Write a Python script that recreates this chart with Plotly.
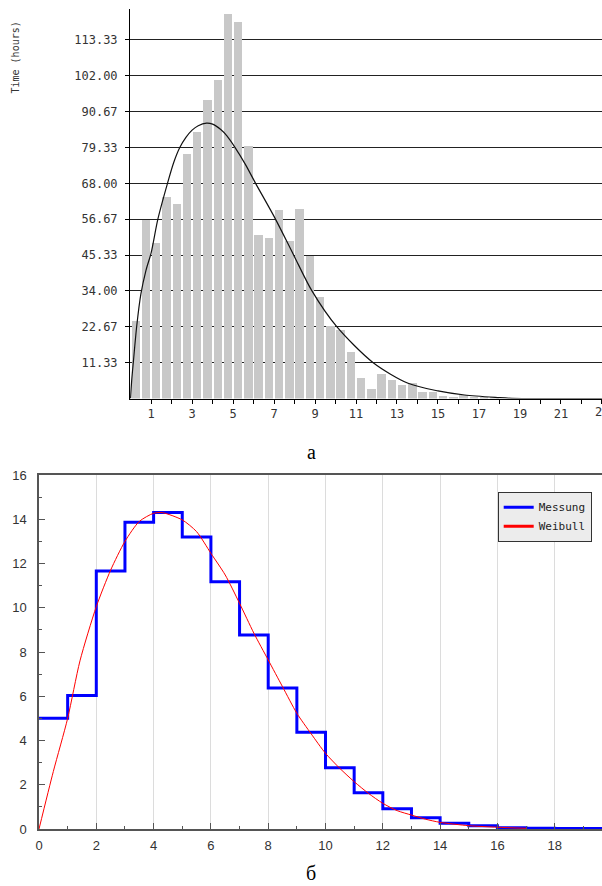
import plotly.graph_objects as go

# ---------- Top chart (a): histogram of times with fitted curve ----------
bar_x = [0.25 + 0.5 * i for i in range(36)]
bar_heights = [24.5, 56.5, 49.2, 63.6, 61.5, 77.3, 84.3, 94.4, 100.7, 121.5,
               119.0, 79.8, 51.6, 50.6, 59.6, 49.8, 60.0, 45.0, 32.2, 22.9,
               21.6, 14.7, 6.6, 3.0, 7.6, 5.8, 4.2, 4.8, 2.0, 2.0,
               0.8, 0.3, 1.0, 0.6, 0.4, 0.2]
curve_x = [0, 0.05, 0.13, 0.3, 0.5, 0.75, 1.0, 1.33, 1.8, 2.1, 2.4, 2.7, 3.0, 3.3, 3.7,
           4.0, 4.4, 4.7, 5.1, 5.6, 6.1, 7.07, 7.96, 8.85, 10.06, 11.84, 13.54, 15.0,
           16.3, 17.9, 18.6, 23.0]
curve_y = [0, 5.5, 11.3, 23, 33, 40.5, 46, 56.7, 68, 74.5, 79.3, 82.5, 84.8, 86.2, 87.0,
           86.7, 85.0, 83.0, 79.3, 74.0, 68, 56.7, 45.3, 34, 22.7, 11.3, 4.8, 2.4,
           1.1, 0.3, 0.05, 0]
top_yticks = [11.33, 22.67, 34.00, 45.33, 56.67, 68.00, 79.33, 90.67, 102.00, 113.33]
top_xticks = list(range(1, 24))

# ---------- Bottom chart (б): Messung vs Weibull ----------
step_x = list(range(0, 20)) + [19.65]
messung = [5.0, 6.03, 11.66, 13.86, 14.3, 13.2, 11.18, 8.77, 6.37, 4.37,
           2.77, 1.64, 0.92, 0.51, 0.26, 0.15, 0.06, 0.03, 0.02, 0.02]
weib_x = [0, 0.5, 1, 1.43, 2, 2.5, 3, 3.5, 4, 4.3, 5, 5.5, 6, 6.5, 7, 7.5, 8,
          8.5, 9, 9.5, 10, 10.5, 11, 11.5, 12, 12.5, 13, 13.5, 14, 15, 16, 17]
weibull = [0, 2.6, 5.0, 7.6, 10.05, 11.7, 13.0, 13.9, 14.27, 14.3, 13.97, 13.44,
           12.46, 11.48, 10.2, 8.85, 7.64, 6.43, 5.23, 4.3, 3.42, 2.74, 2.14,
           1.61, 1.16, 0.83, 0.63, 0.44, 0.3, 0.15, 0.08, 0.03]

W, H = 602, 886
mono = "DejaVu Sans Mono"


def px(xp):
    return xp / W


def py(yp):
    return 1 - yp / H


fig = go.Figure()

fig.add_trace(go.Bar(x=bar_x, y=bar_heights, width=0.41, marker_color="#c8c8c8",
                     marker_line_width=0, xaxis="x", yaxis="y", showlegend=False))
fig.add_trace(go.Scatter(x=curve_x, y=curve_y, mode="lines",
                         line=dict(color="#111", width=1.2, shape="spline", smoothing=0.8),
                         xaxis="x", yaxis="y", showlegend=False))

fig.add_trace(go.Scatter(x=step_x, y=messung + [messung[-1]], mode="lines", showlegend=False,
                         line=dict(color="#0000ff", width=3, shape="hv"), xaxis="x2", yaxis="y2"))
fig.add_trace(go.Scatter(x=weib_x, y=weibull, mode="lines", showlegend=False,
                         line=dict(color="#ff0000", width=1, shape="spline", smoothing=0.7),
                         xaxis="x2", yaxis="y2"))
fig.add_trace(go.Scatter(x=[None], y=[None], mode="lines", name="Messung",
                         line=dict(color="#0000ff", width=3), xaxis="x2", yaxis="y2"))
fig.add_trace(go.Scatter(x=[None], y=[None], mode="lines", name="Weibull",
                         line=dict(color="#ff0000", width=3), xaxis="x2", yaxis="y2"))

fig.update_layout(
    width=W, height=H, margin=dict(l=0, r=0, t=0, b=0, autoexpand=False),
    paper_bgcolor="white", plot_bgcolor="white",
    bargap=0,
    xaxis=dict(domain=[px(130), 1], range=[-0.03, 23.005], tickvals=top_xticks,
               ticktext=[str(v) if v % 2 else "" for v in top_xticks],
               ticks="outside", ticklen=4, tickcolor="#000", showline=True, linecolor="#000",
               linewidth=1, showgrid=False, zeroline=False, automargin=False,
               tickfont=dict(family=mono, size=12, color="#333"), anchor="y"),
    yaxis=dict(domain=[py(398.5), py(9)], range=[0, 123.1], tickvals=top_yticks,
               ticktext=["%.2f" % v for v in top_yticks], ticks="outside", ticklen=4,
               tickcolor="#000", showline=True, linecolor="#000", linewidth=1,
               showgrid=True, gridcolor="#222", gridwidth=1, zeroline=False, automargin=False,
               tickfont=dict(family=mono, size=12, color="#333"), ticklabelstandoff=5, anchor="x"),
    xaxis2=dict(domain=[px(39), 1], range=[0, 19.65], dtick=2, tick0=0, ticks="inside",
                ticklen=6, tickwidth=1.3, tickcolor="#555", showline=True, linecolor="#555", linewidth=1.5,
                mirror=True, showgrid=True, gridcolor="#dcdcdc", gridwidth=1, zeroline=False,
                minor=dict(ticks="inside", ticklen=3, dtick=1, tickcolor="#555", showgrid=False),
                tickfont=dict(family="Liberation Sans", size=13, color="#333"), automargin=False,
                ticklabelstandoff=4, anchor="y2"),
    yaxis2=dict(domain=[py(829), py(475)], range=[0, 16], dtick=2, tick0=0, ticks="inside",
                ticklen=6, tickwidth=1.3, tickcolor="#555", showline=True, linecolor="#555", linewidth=1.5,
                showgrid=False, zeroline=False, automargin=False,
                minor=dict(ticks="inside", ticklen=3, dtick=1, tickcolor="#555"),
                tickfont=dict(family="Liberation Sans", size=13, color="#333"),
                ticklabelstandoff=8, anchor="x2"),
    legend=dict(x=px(497.7), y=py(491.7), xanchor="left", yanchor="top",
                bgcolor="#ececec", bordercolor="#333", borderwidth=1,
                font=dict(family=mono, size=11, color="#222"), itemwidth=30,
                tracegroupgap=0),
    annotations=[
        dict(text="Time (hours)", x=px(15), y=py(57.5), xref="paper", yref="paper",
             xanchor="center", yanchor="middle",
             textangle=-90, showarrow=False, font=dict(family=mono, size=10, color="#333")),
        dict(text="23", x=top_xticks[-1], y=0, xref="x", yref="y", xanchor="center", yanchor="top",
             yshift=-5, showarrow=False, font=dict(family=mono, size=12, color="#333")),
        dict(text="а", x=px(311), y=py(452), xref="paper", yref="paper", showarrow=False,
             xanchor="center", yanchor="middle",
             font=dict(family="Liberation Serif", size=20, color="#000")),
        dict(text="б", x=px(311), y=py(873), xref="paper", yref="paper", showarrow=False,
             xanchor="center", yanchor="middle",
             font=dict(family="Liberation Serif", size=20, color="#000")),
    ],
)

fig.write_html("out.html", config={"displayModeBar": False},
               post_script="document.body.style.margin='0';document.body.style.overflow='hidden';")
